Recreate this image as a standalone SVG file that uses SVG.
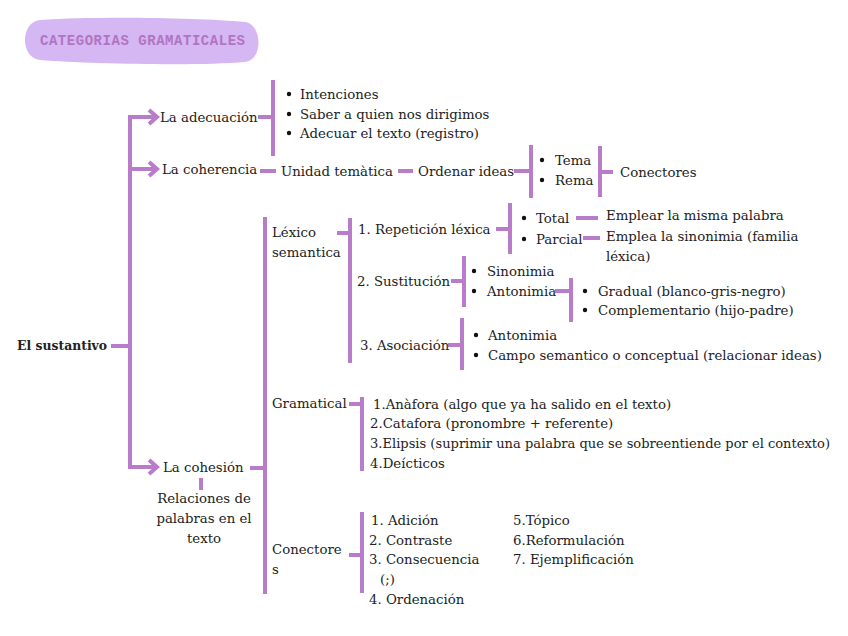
<svg xmlns="http://www.w3.org/2000/svg" width="848" height="636" viewBox="0 0 848 636">
<style>
.t{font-family:"DejaVu Serif","Liberation Serif",serif;font-size:13.3px;fill:#222}
.b{font-weight:bold;font-size:12.4px}
.ln{stroke:#b97ccb;stroke-width:4;fill:none;stroke-linecap:butt}
.ar{stroke:#b97ccb;stroke-width:4;fill:none;stroke-linejoin:miter}
.dot{fill:#111}
</style>
<rect width="848" height="636" fill="#fff"/>
<g id="title">
<path d="M40,20 C100,16 200,18 245,22 C262,24 264,60 245,62 C200,66 90,64 40,60 C20,58 20,22 40,20 Z" fill="#d4b7f3"/>
<text x="40" y="45" font-family="'Liberation Mono',monospace" font-weight="bold" font-size="14" fill="#b274c2" textLength="205" lengthAdjust="spacing">CATEGORIAS GRAMATICALES</text>
</g>
<g id="connectors">
<path class="ln" d="M111,346 H130 M130,115 V469 M128,117 H155 M128,169 H155 M128,467 H155"/>
<polyline class="ar" points="149,110 157,117 149,124"/>
<polyline class="ar" points="149,162 157,169 149,176"/>
<polyline class="ar" points="149,460 157,467 149,474"/>
<path class="ln" d="M258,117 H273 M273,80 V156"/>
<path class="ln" d="M260,171 H276 M398,171 H413 M514,171 H531 M531,145 V198 M600,146 V197 M600,172 H613"/>
<path class="ln" d="M250,468 H265 M265,217 V594 M201,478 V490"/>
<path class="ln" d="M337,233 H350 M350,218 V363"/>
<path class="ln" d="M496,229 H510 M510,203 V254 M576,218 H598 M583,238 H600"/>
<path class="ln" d="M451,281 H464 M464,256 V307 M555,291 H571 M571,278 V322"/>
<path class="ln" d="M448,345 H462 M462,318 V370"/>
<path class="ln" d="M349,404 H362 M362,397 V471"/>
<path class="ln" d="M349,555 H362 M362,512 V593"/>
</g>
<g id="n-sustantivo"><text class="t b" x="17" y="350">El sustantivo</text></g>
<g id="n-adecuacion">
<text class="t" x="160" y="122">La adecuación</text>
</g>
<g id="n-adecuacion-list">
<circle class="dot" cx="289" cy="94" r="2.2"/><text class="t" x="300" y="99">Intenciones</text>
<circle class="dot" cx="289" cy="114" r="2.2"/><text class="t" x="300" y="119">Saber a quien nos dirigimos</text>
<circle class="dot" cx="289" cy="133" r="2.2"/><text class="t" x="300" y="138">Adecuar el texto (registro)</text>
</g>
<g id="n-coherencia"><text class="t" x="162" y="174">La coherencia</text></g>
<g id="n-unidad"><text class="t" x="281" y="176">Unidad temàtica</text></g>
<g id="n-ordenar"><text class="t" x="418" y="176">Ordenar ideas</text></g>
<g id="n-tema-rema">
<circle class="dot" cx="542" cy="160" r="2.2"/><text class="t" x="555" y="165">Tema</text>
<circle class="dot" cx="542" cy="180" r="2.2"/><text class="t" x="555" y="185">Rema</text>
</g>
<g id="n-conectores1"><text class="t" x="620" y="177">Conectores</text></g>
<g id="n-cohesion"><text class="t" x="163" y="472">La cohesión</text></g>
<g id="n-relaciones">
<text class="t" x="204" y="503" text-anchor="middle">Relaciones de</text>
<text class="t" x="204" y="523" text-anchor="middle">palabras en el</text>
<text class="t" x="204" y="543" text-anchor="middle">texto</text>
</g>
<g id="n-lexico">
<text class="t" x="272" y="237">Léxico</text>
<text class="t" x="272" y="257">semantica</text>
</g>
<g id="n-repeticion"><text class="t" x="358" y="234">1.  Repetición léxica</text></g>
<g id="n-total-parcial">
<circle class="dot" cx="524" cy="218" r="2.2"/><text class="t" x="536" y="223">Total</text>
<circle class="dot" cx="524" cy="239" r="2.2"/><text class="t" x="536" y="244">Parcial</text>
</g>
<g id="n-emplear"><text class="t" x="606" y="220">Emplear la misma palabra</text></g>
<g id="n-emplea">
<text class="t" x="606" y="241">Emplea la sinonimia (familia</text>
<text class="t" x="606" y="261">léxica)</text>
</g>
<g id="n-sustitucion"><text class="t" x="357" y="286">2. Sustitución</text></g>
<g id="n-sin-ant">
<circle class="dot" cx="474" cy="271" r="2.2"/><text class="t" x="487" y="276">Sinonimia</text>
<circle class="dot" cx="474" cy="291" r="2.2"/><text class="t" x="487" y="296">Antonimia</text>
</g>
<g id="n-gradual">
<circle class="dot" cx="585" cy="291" r="2.2"/><text class="t" x="598" y="296">Gradual (blanco-gris-negro)</text>
<circle class="dot" cx="585" cy="310" r="2.2"/><text class="t" x="598" y="315">Complementario (hijo-padre)</text>
</g>
<g id="n-asociacion"><text class="t" x="360" y="350">3. Asociación</text></g>
<g id="n-asoc-list">
<circle class="dot" cx="476" cy="335" r="2.2"/><text class="t" x="488" y="340">Antonimia</text>
<circle class="dot" cx="476" cy="355" r="2.2"/><text class="t" x="488" y="360">Campo semantico o conceptual (relacionar ideas)</text>
</g>
<g id="n-gramatical"><text class="t" x="272" y="408">Gramatical</text></g>
<g id="n-gram-list">
<text class="t" x="373" y="409">1.Anàfora (algo que ya ha salido en el texto)</text>
<text class="t" x="370" y="428">2.Catafora (pronombre + referente)</text>
<text class="t" x="370" y="448" textLength="460" lengthAdjust="spacingAndGlyphs">3.Elipsis (suprimir una palabra que se sobreentiende por el contexto)</text>
<text class="t" x="370" y="468">4.Deícticos</text>
</g>
<g id="n-conectores2">
<text class="t" x="272" y="554">Conectore</text>
<text class="t" x="272" y="574">s</text>
</g>
<g id="n-conect-list">
<text class="t" x="371" y="525">1. Adición</text>
<text class="t" x="369" y="545">2. Contraste</text>
<text class="t" x="369" y="564">3. Consecuencia</text>
<text class="t" x="380" y="584">(;)</text>
<text class="t" x="369" y="604">4. Ordenación</text>
<text class="t" x="513" y="525">5.Tópico</text>
<text class="t" x="513" y="545">6.Reformulación</text>
<text class="t" x="513" y="564">7. Ejemplificación</text>
</g>
</svg>
